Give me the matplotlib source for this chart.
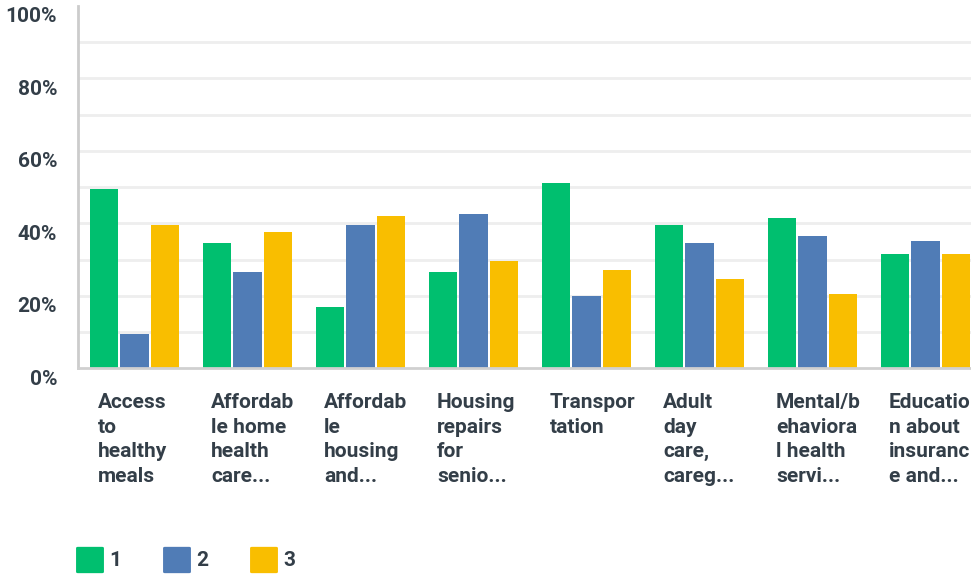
import matplotlib
matplotlib.use("Agg")
import matplotlib.pyplot as plt
import matplotlib.transforms as mtransforms
from matplotlib.patches import FancyBboxPatch
import numpy as np

categories = [
    "Access\nto\nhealthy\nmeals",
    "Affordab\nle home\nhealth\ncare...",
    "Affordab\nle\nhousing\nand...",
    "Housing\nrepairs\nfor\nsenio...",
    "Transpor\ntation",
    "Adult\nday\ncare,\ncareg...",
    "Mental/b\nehaviora\nl health\nservi...",
    "Educatio\nn about\ninsuranc\ne and...",
]
series_names = ["1", "2", "3"]
values_1 = [49.5, 34.6, 16.9, 26.6, 51.2, 39.6, 41.5, 31.6]
values_2 = [9.5, 26.6, 39.6, 42.6, 20.0, 34.6, 36.5, 35.1]
values_3 = [39.6, 37.7, 42.1, 29.6, 27.2, 24.7, 20.5, 31.6]
y_ticks = [0, 20, 40, 60, 80, 100]
y_tick_labels = ["0%", "20%", "40%", "60%", "80%", "100%"]

colors = ["#00BF6F", "#507CB6", "#F9BE00"]
text_color = "#333E48"
font = ["Roboto", "DejaVu Sans"]
fs = 15
wt = "semibold"

W, H = 971, 576
fig = plt.figure(figsize=(W / 100, H / 100), dpi=100)
ax_left, ax_right = 78, 982
ax_bottom, ax_top = 368.3, 6
ax = fig.add_axes([ax_left / W, (H - ax_bottom) / H, (ax_right - ax_left) / W, (ax_bottom - ax_top) / H])

x = np.arange(len(categories))
bw = 0.248
offs = [-0.272, 0.0, 0.272]
for vals, off, c in zip([values_1, values_2, values_3], offs, colors):
    ax.bar(x + off, vals, width=bw, color=c, zorder=3, linewidth=0)

ax.set_xlim(-0.5, len(categories) - 0.5)
ax.set_ylim(0, 100)
for g in range(10, 100, 10):
    ax.axhline(g, color="#EEEEEE", linewidth=2, zorder=1)

for s in ["top", "right"]:
    ax.spines[s].set_visible(False)
ax.spines["left"].set_color("#CCCCCC")
ax.spines["left"].set_linewidth(2)
ax.spines["bottom"].set_color("#D0D0D0")
ax.spines["bottom"].set_linewidth(2)
ax.spines["bottom"].set_zorder(4)

ax.set_xticks([])
ax.set_yticks(y_ticks)
ax.set_yticklabels(y_tick_labels, fontsize=fs, color=text_color, fontweight=wt, family=font)
ax.tick_params(axis="y", length=0, pad=15)
off_tr = mtransforms.ScaledTranslation(0, -9 / 100, fig.dpi_scale_trans)
for lbl in ax.get_yticklabels():
    lbl.set_transform(lbl.get_transform() + off_tr)

trans = mtransforms.blended_transform_factory(ax.transData, fig.transFigure)
trans = trans + mtransforms.ScaledTranslation(-36.5 / 100, 0, fig.dpi_scale_trans)
for i, cat in enumerate(categories):
    fig.text(i, (H - 393) / H, cat, transform=trans, ha="left", va="top",
             fontsize=fs, color=text_color, fontweight=wt, family=font,
             linespacing=1.37)

# legend
for i, (name, c) in enumerate(zip(series_names, colors)):
    x0 = 76 + i * 87
    p = FancyBboxPatch(((x0 + 2) / W, (H - 574 + 2) / H), 24 / W, 24 / H,
                       boxstyle="round,pad=0.002", transform=fig.transFigure,
                       facecolor=c, edgecolor="none")
    fig.patches.append(p)
    fig.text((x0 + 33) / W, (H - 560) / H, name, ha="left", va="center",
             fontsize=fs, color=text_color, fontweight="bold", family=font)

fig.savefig("out.png", dpi=100)
